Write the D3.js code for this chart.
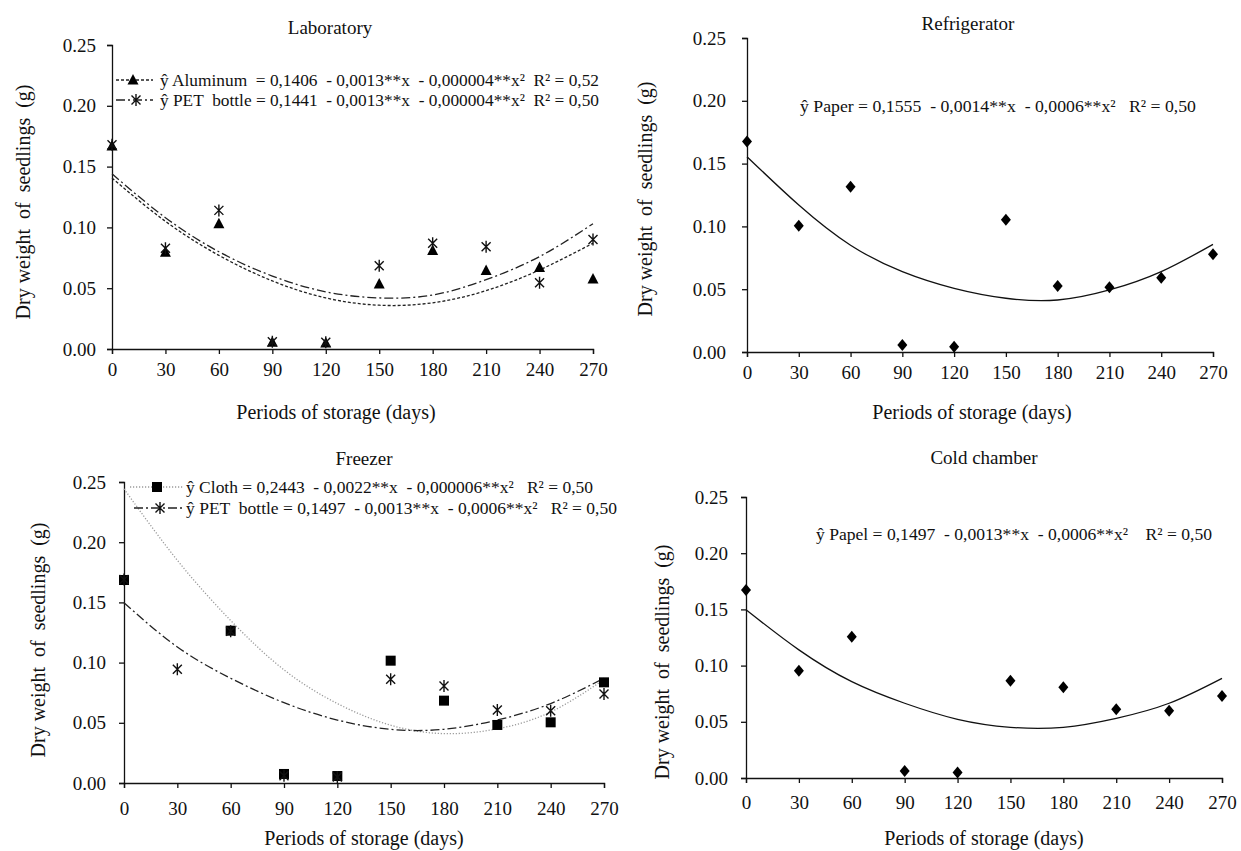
<!DOCTYPE html>
<html>
<head>
<meta charset="utf-8">
<script src="https://cdn.jsdelivr.net/npm/d3@7/dist/d3.min.js"></script>
<style>
  html, body { margin: 0; padding: 0; background: #fff; }
  svg text { font-family: "Liberation Serif", "Times New Roman", "DejaVu Serif", serif; fill: #111; white-space: pre; }
</style>
</head>
<body>
<svg id="chart" width="1241" height="851"></svg>
<script>
// ---------- data ----------
const days = [0, 30, 60, 90, 120, 150, 180, 210, 240, 270];
const yTicks = [0, 0.05, 0.10, 0.15, 0.20, 0.25];

// Laboratory
const labAluminum    = [0.167, 0.0795, 0.103, 0.0055, 0.005, 0.0535, 0.081, 0.0645, 0.067, 0.0576];
const labPet         = [0.168, 0.0828, 0.114, 0.006, 0.0055, 0.0685, 0.087, 0.084, 0.0545, 0.090];
const labAluminumFit = [0.1406, 0.105, 0.077, 0.056, 0.042, 0.036, 0.038, 0.048, 0.065, 0.087];
const labPetFit      = [0.1441, 0.108, 0.080, 0.060, 0.047, 0.042, 0.0444, 0.057, 0.076, 0.103];

// Refrigerator
const fridgePaper    = [0.1675, 0.1006, 0.1316, 0.0056, 0.0042, 0.1053, 0.0525, 0.0515, 0.0592, 0.0778];
const fridgePaperFit = [0.1555, 0.117, 0.085, 0.064, 0.0507, 0.0428, 0.0414, 0.0494, 0.064, 0.0857];

// Freezer
const freezerCloth    = [0.1686, null, 0.1265, 0.0075, 0.0058, 0.1016, 0.0684, 0.0482, 0.0504, 0.0836];
const freezerPet      = [0.169, 0.0944, 0.126, 0.006, 0.005, 0.0861, 0.0806, 0.0606, 0.060, 0.0739];
const freezerClothFit = [0.2443, 0.185, 0.135, 0.094, 0.066, 0.048, 0.041, 0.045, 0.059, 0.086];
const freezerPetFit   = [0.1497, 0.113, 0.087, 0.0667, 0.0523, 0.0446, 0.0446, 0.0523, 0.066, 0.087];

// Cold chamber
const coldPaper    = [0.1673, 0.0955, 0.1257, 0.0062, 0.005, 0.0866, 0.0807, 0.0611, 0.0599, 0.073];
const coldPaperFit = [0.1497, 0.114, 0.0857, 0.0665, 0.0522, 0.0451, 0.0451, 0.0531, 0.0665, 0.0887];

// texts
const titles = ["Laboratory", "Refrigerator", "Freezer", "Cold chamber"];
const xLabel = "Periods of storage (days)";
const yLabel = "Dry weight  of  seedlings  (g)";
const eqLabAluminum = "ŷ Aluminum  = 0,1406  - 0,0013**x  - 0,000004**x²  R² = 0,52";
const eqLabPet      = "ŷ PET  bottle = 0,1441  - 0,0013**x  - 0,000004**x²  R² = 0,50";
const eqFridge      = "ŷ Paper = 0,1555  - 0,0014**x  - 0,0006**x²   R² = 0,50";
const eqFreezerCloth= "ŷ Cloth = 0,2443  - 0,0022**x  - 0,000006**x²   R² = 0,50";
const eqFreezerPet  = "ŷ PET  bottle = 0,1497  - 0,0013**x  - 0,0006**x²   R² = 0,50";
const eqCold        = "ŷ Papel = 0,1497  - 0,0013**x  - 0,0006**x²    R² = 0,50";

// ---------- styles ----------
const STY = {
  shortDash: { stroke: "#222", dash: "3,2", width: 1.3 },
  dashDot:   { stroke: "#222", dash: "9,3,2,3", width: 1.3 },
  dotted:    { stroke: "#9a9a9a", dash: "1.2,1.8", width: 1.3 },
  solid:     { stroke: "#111", dash: null, width: 1.3 }
};

// ---------- panels ----------
const panels = [
  { title: titles[0], left: 112, right: 593, top: 45, bottom: 349,
    titleX: 330, titleY: 27, xlabX: 336, xlabY: 412, ylabX: 23, ylabY: 202, tickOffX: 20, tickGapY: 16,
    series: [
      { values: labAluminum, fit: labAluminumFit, marker: "triangle", line: "shortDash",
        legend: { text: eqLabAluminum, x1: 116, x2: 153, mx: 133, tx: 160, y: 80, w: 439 } },
      { values: labPet, fit: labPetFit, marker: "asterisk", line: "dashDot",
        legend: { text: eqLabPet, x1: 116, x2: 153, mx: 136, tx: 160, y: 100, w: 439 } }
    ] },
  { title: titles[1], left: 747, right: 1213, top: 38, bottom: 352,
    titleX: 968, titleY: 23, xlabX: 972, xlabY: 412, ylabX: 645, ylabY: 199, tickOffX: 20, tickGapY: 21,
    series: [
      { values: fridgePaper, fit: fridgePaperFit, marker: "diamond", line: "solid",
        legend: { text: eqFridge, tx: 800, y: 106, w: 396 } }
    ] },
  { title: titles[2], left: 124, right: 604, top: 482, bottom: 783,
    titleX: 364, titleY: 458, xlabX: 364, xlabY: 838, ylabX: 38, ylabY: 640, tickOffX: 25, tickGapY: 18,
    series: [
      { values: freezerCloth, fit: freezerClothFit, marker: "square", line: "dotted",
        legend: { text: eqFreezerCloth, x1: 130, x2: 184, mx: 157, tx: 186, y: 487, w: 407 } },
      { values: freezerPet, fit: freezerPetFit, marker: "asterisk", line: "dashDot",
        legend: { text: eqFreezerPet, x1: 134, x2: 184, mx: 160, tx: 186, y: 508, w: 431 } }
    ] },
  { title: titles[3], left: 746, right: 1222, top: 497, bottom: 778,
    titleX: 984, titleY: 457, xlabX: 984, xlabY: 838, ylabX: 662, ylabY: 662, tickOffX: 24, tickGapY: 18,
    series: [
      { values: coldPaper, fit: coldPaperFit, marker: "diamond", line: "solid",
        legend: { text: eqCold, tx: 816, y: 534, w: 396 } }
    ] }
];

const svg = d3.select("#chart");
svg.append("rect").attr("width", 1241).attr("height", 851).attr("fill", "#fff");

function drawMarker(g, type, cx, cy) {
  if (type === "triangle") {
    g.append("path").attr("d", `M${cx},${cy-6} L${cx+5.5},${cy+4.5} L${cx-5.5},${cy+4.5} Z`).attr("fill", "#000");
  } else if (type === "square") {
    g.append("rect").attr("x", cx-5).attr("y", cy-5).attr("width", 10).attr("height", 10).attr("fill", "#000");
  } else if (type === "diamond") {
    g.append("path").attr("d", `M${cx},${cy-6} L${cx+5},${cy} L${cx},${cy+6} L${cx-5},${cy} Z`).attr("fill", "#000");
  } else if (type === "asterisk") {
    const r = 6, dx = 4.5, dy = 4.5;
    g.append("path")
      .attr("d", `M${cx},${cy-r} L${cx},${cy+r} M${cx-dx},${cy-dy} L${cx+dx},${cy+dy} M${cx-dx},${cy+dy} L${cx+dx},${cy-dy}`)
      .attr("stroke", "#111").attr("stroke-width", 1.4).attr("fill", "none");
  }
}

function styleLine(sel, key) {
  const s = STY[key];
  sel.attr("fill", "none").attr("stroke", s.stroke).attr("stroke-width", s.width);
  if (s.dash) sel.attr("stroke-dasharray", s.dash);
  return sel;
}

panels.forEach(p => {
  const x = d3.scaleLinear().domain([0, 270]).range([p.left, p.right]);
  const y = d3.scaleLinear().domain([0, 0.25]).range([p.bottom, p.top]);
  const g = svg.append("g");

  // axes
  const xAxis = d3.axisBottom(x).tickValues(days).tickSize(5).tickSizeOuter(5).tickPadding(p.tickOffX - 12).tickFormat(d3.format("d"));
  const gx = g.append("g").attr("transform", `translate(0,${p.bottom})`).call(xAxis);
  const yAxis = d3.axisLeft(y).tickValues(yTicks).tickSize(5).tickSizeOuter(5).tickPadding(p.tickGapY - 5).tickFormat(d3.format(".2f"));
  const gy = g.append("g").attr("transform", `translate(${p.left},0)`).call(yAxis);
  [gx, gy].forEach(a => {
    a.attr("font-family", null);
    a.selectAll("path, line").attr("stroke", "#111").attr("stroke-width", 1.3);
    a.selectAll("text").attr("font-size", 19).attr("fill", "#111");
  });
  gx.selectAll("text").attr("dy", null).attr("dominant-baseline", "central").attr("y", p.tickOffX);

  // title & labels
  g.append("text").attr("x", p.titleX).attr("y", p.titleY).attr("text-anchor", "middle")
    .attr("dominant-baseline", "central").attr("font-size", 19).text(p.title);
  g.append("text").attr("x", p.xlabX).attr("y", p.xlabY).attr("text-anchor", "middle")
    .attr("dominant-baseline", "central").attr("font-size", 20).text(xLabel);
  g.append("text").attr("transform", `translate(${p.ylabX},${p.ylabY}) rotate(-90)`).attr("text-anchor", "middle")
    .attr("dominant-baseline", "central").attr("font-size", 20).text(yLabel);

  // fitted curves
  const line = d3.line().x((d, i) => x(days[i])).y(d => y(d)).curve(d3.curveNatural);
  p.series.forEach(s => {
    styleLine(g.append("path").attr("d", line(s.fit)), s.line);
  });
  // points
  p.series.forEach(s => {
    s.values.forEach((v, i) => {
      if (v === null) return;
      drawMarker(g, s.marker, x(days[i]), y(v));
    });
  });
  // legend
  p.series.forEach(s => {
    const L = s.legend;
    if (L.x1 !== undefined) {
      styleLine(g.append("line").attr("x1", L.x1).attr("x2", L.x2).attr("y1", L.y).attr("y2", L.y), s.line);
      drawMarker(g, s.marker, L.mx, L.y);
    }
    g.append("text").attr("x", L.tx).attr("y", L.y).attr("dominant-baseline", "central")
      .attr("font-size", 17).attr("textLength", L.w).attr("lengthAdjust", "spacingAndGlyphs").text(L.text);
  });
});
</script>
</body>
</html>
